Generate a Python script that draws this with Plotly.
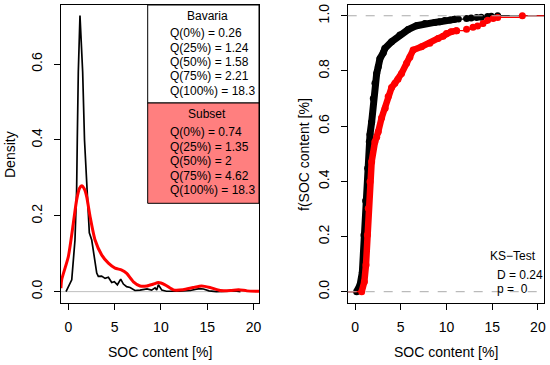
import plotly.graph_objects as go

# ---------------- data ----------------
# Density curves (left panel)
bav_dens_x = [-0.25, 0.37, 0.72, 0.9, 0.97, 1.08, 1.26, 1.55, 1.75, 2.05, 2.27, 2.53, 2.78, 3.07, 3.24,
              3.6, 3.97, 4.33, 4.69, 4.97, 5.3, 5.66, 5.95, 6.3, 6.67, 7.2, 7.75, 8.5, 9.0, 9.37, 9.55,
              9.73, 10.1, 10.6, 12.0, 13.2, 13.7, 14.2, 14.6, 15.2, 16.0, 17.0, 18.0, 18.6]
bav_dens_y = [0.0, 0.031, 0.136, 0.27, 0.40, 0.58, 0.728, 0.58, 0.40, 0.268, 0.155, 0.136, 0.10, 0.049, 0.04,
              0.041, 0.035, 0.038, 0.024, 0.026, 0.018, 0.033, 0.02, 0.013, 0.011, 0.003, 0.004, 0.007, 0.004, 0.01, 0.004,
              0.018, 0.004, 0.001, 0.001, 0.003, 0.006, 0.008, 0.007, 0.002, 0.0, 0.001, 0.002, 0.0]

sub_dens_x = [-0.8, -0.72, 0.0, 0.54, 0.9, 1.2, 1.45, 1.75, 1.99, 2.35, 2.89, 3.6, 4.33, 5.05, 5.77, 6.31,
              7.03, 7.75, 8.48, 9.2, 9.73, 10.45, 11.35, 12.4, 13.5, 14.4, 15.3, 16.4, 17.5, 18.4, 19.3, 20.6]
sub_dens_y = [0.009, 0.031, 0.092, 0.18, 0.242, 0.272, 0.279, 0.27, 0.25, 0.198, 0.136, 0.097, 0.075, 0.062, 0.057, 0.048,
              0.026, 0.015, 0.015, 0.02, 0.024, 0.018, 0.0045, 0.005, 0.011, 0.015, 0.011, 0.003, 0.003, 0.005, 0.002, 0.001]

# ECDF (right panel): dense part and sparse tail
bav_ecdf_x = [0.18, 0.55, 0.8, 0.98, 1.16, 1.38, 1.56, 1.64, 1.82, 2.0, 2.18, 2.37, 2.54, 2.73, 3.09, 3.27,
              4.0, 4.9, 5.81, 6.73, 7.63, 8.72, 9.27, 9.8, 10.4, 10.9]
bav_ecdf_y = [0.0, 0.024, 0.07, 0.205, 0.33, 0.447, 0.543, 0.57, 0.615, 0.70, 0.755, 0.791, 0.815, 0.845, 0.866, 0.882,
              0.906, 0.93, 0.95, 0.964, 0.972, 0.976, 0.978, 0.983, 0.985, 0.987]
bav_tail_x = [10.9, 11.3, 12.2, 12.7, 13.3, 13.8, 14.5, 14.9, 15.6]
bav_tail_y = [0.987, 0.988, 0.99, 0.992, 0.994, 0.995, 0.997, 0.998, 1.0]

sub_ecdf_x = [0.73, 1.02, 1.2, 1.35, 1.45, 1.64, 1.82, 2.18, 2.37, 2.54, 2.91, 3.3, 3.63, 4.0, 4.36, 4.7, 5.09, 5.64, 6.0, 6.36,
              7.27, 8.18, 9.08, 9.63, 10.0, 10.5, 11.1]
sub_ecdf_y = [0.0, 0.036, 0.097, 0.205, 0.302, 0.398, 0.471, 0.543, 0.56, 0.58, 0.63, 0.665, 0.707, 0.74, 0.755, 0.77, 0.791, 0.828, 0.85, 0.876,
              0.888, 0.90, 0.918, 0.926, 0.936, 0.942, 0.946]
sub_tail_x = [11.1, 12.2, 12.9, 13.4, 14.0, 14.5, 15.1, 15.6, 18.3]
sub_tail_y = [0.946, 0.951, 0.958, 0.963, 0.972, 0.984, 0.99, 0.994, 1.0]

bav_quant_labels = ["Q(0%) = 0.26", "Q(25%) = 1.24", "Q(50%) = 1.58", "Q(75%) = 2.21", "Q(100%) = 18.3"]
sub_quant_labels = ["Q(0%) = 0.74", "Q(25%) = 1.35", "Q(50%) = 2", "Q(75%) = 4.62", "Q(100%) = 18.3"]
ks_labels = ["KS\u2212Test", "D = 0.24", "p =\u00a0\u00a00"]

dens_ticks = [0.0, 0.2, 0.4, 0.6]
ecdf_ticks = [0.0, 0.2, 0.4, 0.6, 0.8, 1.0]
x_ticks = [0, 5, 10, 15, 20]

# ---------------- layout helpers ----------------
W, H = 550, 365
def px(x):
    return x / W
def py(y):
    return 1 - y / H

FONT = "Arial, Liberation Sans, sans-serif"
BLACK = "#000000"
RED = "#FF0000"

fig = go.Figure()

# Left: density
fig.add_trace(go.Scatter(x=bav_dens_x, y=bav_dens_y, mode="lines",
                         line=dict(color=BLACK, width=1.7), xaxis="x", yaxis="y", showlegend=False))
fig.add_trace(go.Scatter(x=sub_dens_x, y=sub_dens_y, mode="lines",
                         line=dict(color=RED, width=3, shape="spline", smoothing=0.6),
                         xaxis="x", yaxis="y", showlegend=False))

# Right: ECDF
XR = [-0.8, 20.7]
for ex, ey, tx, ty, col, bw in [(bav_ecdf_x, bav_ecdf_y, bav_tail_x, bav_tail_y, BLACK, 7),
                                (sub_ecdf_x, sub_ecdf_y, sub_tail_x, sub_tail_y, RED, 6.5)]:
    fig.add_trace(go.Scatter(x=[XR[0], ex[0]], y=[ey[0], ey[0]], mode="lines",
                             line=dict(color=col, width=1.2), xaxis="x2", yaxis="y2", showlegend=False))
    fig.add_trace(go.Scatter(x=[tx[-1], XR[1]], y=[ty[-1], ty[-1]], mode="lines",
                             line=dict(color=col, width=1.2), xaxis="x2", yaxis="y2", showlegend=False))
    fig.add_trace(go.Scatter(x=ex, y=ey, mode="lines+markers",
                             line=dict(color=col, width=bw),
                             marker=dict(color=col, size=7),
                             xaxis="x2", yaxis="y2", showlegend=False))
    fig.add_trace(go.Scatter(x=tx, y=ty, mode="lines+markers",
                             line=dict(color=col, width=1.2, shape="hv"),
                             marker=dict(color=col, size=7),
                             xaxis="x2", yaxis="y2", showlegend=False))

axis_common = dict(showline=True, linecolor=BLACK, linewidth=1, mirror=True,
                   ticks="outside", ticklen=6, tickcolor=BLACK, tickwidth=1,
                   showgrid=False, zeroline=False,
                   tickfont=dict(family=FONT, size=14, color=BLACK),
                   automargin=False, fixedrange=True)

fig.update_layout(
    width=W, height=H,
    margin=dict(l=0, r=0, t=0, b=0),
    paper_bgcolor="white", plot_bgcolor="white",
    hovermode=False,
    xaxis=dict(domain=[px(61), px(259)], range=[-0.79, 20.6], tickvals=x_ticks,
               ticklabelstandoff=5, anchor="y", **axis_common),
    yaxis=dict(domain=[py(303), py(5)], range=[-0.03, 0.756], tickvals=dens_ticks,
               ticktext=["0.0", "0.2", "0.4", "0.6"], tickangle=-90,
               ticklabelstandoff=6, anchor="x", **axis_common),
    xaxis2=dict(domain=[px(347.7), px(544.3)], range=XR, tickvals=x_ticks,
                ticklabelstandoff=5, anchor="y2", **axis_common),
    yaxis2=dict(domain=[py(303), py(5)], range=[-0.041, 1.039], tickvals=ecdf_ticks,
                ticktext=["0.0", "0.2", "0.4", "0.6", "0.8", "1.0"], tickangle=-90,
                ticklabelstandoff=6, anchor="x2", **axis_common),
)

shapes = []
shapes.append(dict(type="line", xref="x domain", yref="y", x0=0, x1=1, y0=0, y1=0,
                   line=dict(color="#BEBEBE", width=1), layer="below"))
for yv in [0, 1]:
    shapes.append(dict(type="line", xref="x2 domain", yref="y2", x0=0, x1=1, y0=yv, y1=yv,
                       line=dict(color="#AAAAAA", width=1, dash="dash"), layer="above"))
shapes.append(dict(type="rect", xref="paper", yref="paper", x0=px(147.7), x1=px(259), y0=py(103), y1=py(5),
                   line=dict(color=BLACK, width=1), fillcolor="white", layer="above"))
shapes.append(dict(type="rect", xref="paper", yref="paper", x0=px(147.7), x1=px(259), y0=py(203.3), y1=py(103),
                   line=dict(color=BLACK, width=1), fillcolor="#FF7F7F", layer="above"))
fig.update_layout(shapes=shapes)

ann = []
def text(x, y, s, anchor="left", size=12, angle=0):
    ann.append(dict(x=px(x), y=py(y), xref="paper", yref="paper", text=s, showarrow=False,
                    xanchor=anchor, yanchor="middle", textangle=angle,
                    font=dict(family=FONT, size=size, color=BLACK)))

text(207, 15.7, "Bavaria", anchor="center")
for i, s in enumerate(bav_quant_labels):
    text(168.3, 33.3 + i * 14.35, s)
text(207, 114, "Subset", anchor="center")
for i, s in enumerate(sub_quant_labels):
    text(168.3, 132.3 + i * 14.45, s)

text(487.7, 255.7, ks_labels[0])
text(495, 275, ks_labels[1])
text(495, 289.3, ks_labels[2])

text(160, 351.7, "SOC content [%]", anchor="center", size=14)
text(446, 351.7, "SOC content [%]", anchor="center", size=14)
text(10, 155, "Density", anchor="center", size=14, angle=-90)
text(304, 155, "f(SOC content [%]", anchor="center", size=14, angle=-90)

fig.update_layout(annotations=ann)

fig.write_html("out.html",
               config={"displayModeBar": False, "staticPlot": True},
               post_script="document.body.style.margin='0';document.body.style.padding='0';"
                           "document.documentElement.style.overflow='hidden';")
